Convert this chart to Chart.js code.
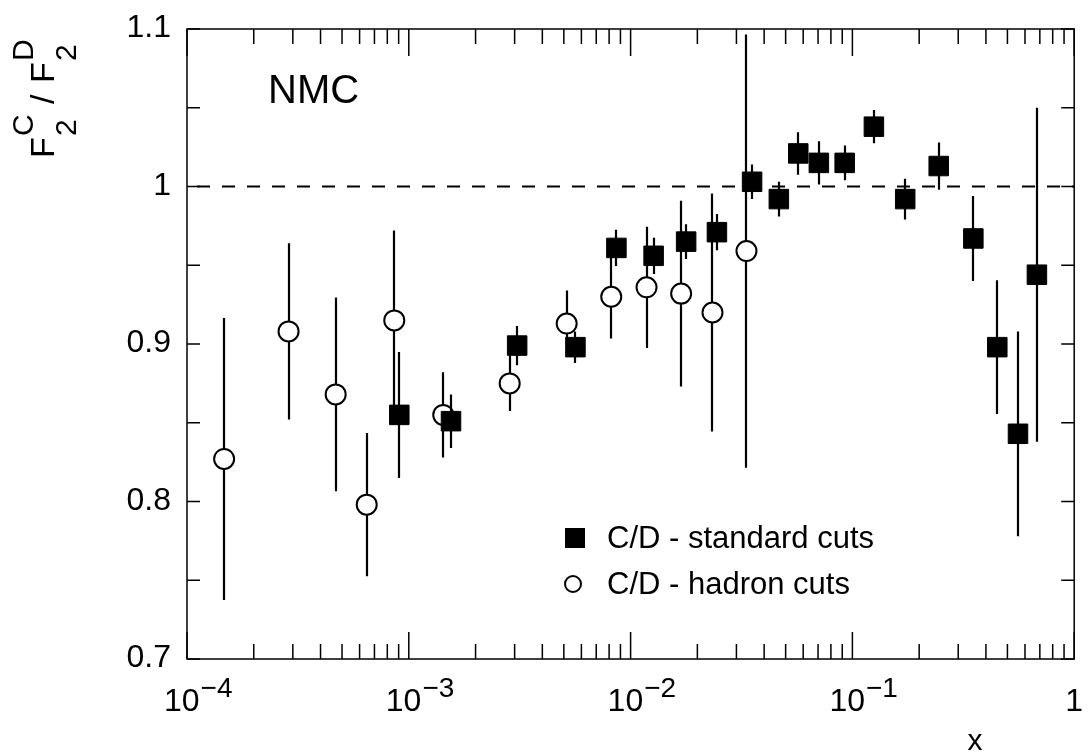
<!DOCTYPE html>
<html>
<head>
<meta charset="utf-8">
<script src="https://cdn.jsdelivr.net/npm/chart.js@4.4.1/dist/chart.umd.min.js"></script>
<style>
body{margin:0;background:#fff;}
</style>
</head>
<body>
<canvas id="c" width="1089" height="755"></canvas>
<script>
// C/D - standard cuts
const stdX = [9.06e-4, 1.55e-3, 3.08e-3, 5.64e-3, 8.63e-3, 1.27e-2, 1.78e-2, 2.45e-2, 3.53e-2, 4.66e-2,
              5.70e-2, 7.06e-2, 9.23e-2, 0.125, 0.173, 0.245, 0.351, 0.450, 0.558, 0.679];
const stdY = [0.855, 0.851, 0.899, 0.898, 0.961, 0.956, 0.965, 0.971, 1.003, 0.992,
              1.021, 1.015, 1.015, 1.038, 0.992, 1.013, 0.967, 0.898, 0.843, 0.944];
const stdErr = [0.040, 0.017, 0.0125, 0.010, 0.0115, 0.0115, 0.011, 0.0115, 0.011, 0.011,
                0.0135, 0.0137, 0.011, 0.0105, 0.013, 0.015, 0.027, 0.0425, 0.065, 0.106];

// C/D - hadron cuts
const hadX = [1.47e-4, 2.87e-4, 4.68e-4, 6.46e-4, 8.6e-4, 1.43e-3, 2.85e-3, 5.15e-3, 8.18e-3, 1.18e-2,
              1.69e-2, 2.34e-2, 3.33e-2];
const hadY = [0.827, 0.908, 0.868, 0.798, 0.915, 0.855, 0.875, 0.913, 0.930, 0.936,
              0.932, 0.920, 0.959];
const hadErr = [0.0895, 0.056, 0.0615, 0.0455, 0.057, 0.027, 0.0175, 0.021, 0.0265, 0.0385,
                0.059, 0.0755, 0.1375];

const xMajor = [1e-4, 1e-3, 1e-2, 1e-1, 1];
const xExp = ["-4", "-3", "-2", "-1", ""];
const yLabelVals = [0.7, 0.8, 0.9, 1.0, 1.1];
const yLabels = ["0.7", "0.8", "0.9", "1", "1.1"];

const FONT = "'Liberation Sans', Arial, sans-serif";
const errs = [
    {xs: stdX, ys: stdY, e: stdErr},
    {xs: hadX, ys: hadY, e: hadErr}
];

function pts(xs, ys){
    return xs.map((x,i)=>({x:x, y:ys[i]}));
}

const decor = {
    id:"decor",

    beforeDatasetsDraw(chart){
        const ctx = chart.ctx, a = chart.chartArea;
        const y1 = chart.scales.y.getPixelForValue(1);
        ctx.save();
        ctx.strokeStyle = "#000";
        ctx.lineWidth = 1.8;
        ctx.setLineDash([13,12]);
        ctx.beginPath();
        ctx.moveTo(a.left + 10, y1);
        ctx.lineTo(a.right, y1);
        ctx.stroke();
        ctx.restore();
    },

    beforeDatasetDraw(chart, args){
        const d = errs[args.index];
        const ctx = chart.ctx, a = chart.chartArea;
        const xs = chart.scales.x, ys = chart.scales.y;
        ctx.save();
        ctx.beginPath();
        ctx.rect(a.left, a.top, a.right - a.left, a.bottom - a.top);
        ctx.clip();
        ctx.strokeStyle = "#000";
        ctx.lineWidth = 2.2;
        d.xs.forEach((x,i)=>{
            const px = Math.round(xs.getPixelForValue(x));
            ctx.beginPath();
            ctx.moveTo(px, ys.getPixelForValue(d.ys[i] + d.e[i]));
            ctx.lineTo(px, ys.getPixelForValue(d.ys[i] - d.e[i]));
            ctx.stroke();
        });
        ctx.restore();
    },

    afterDraw(chart){
        const ctx = chart.ctx, a = chart.chartArea;
        const xs = chart.scales.x, ys = chart.scales.y;
        ctx.save();
        ctx.strokeStyle = "#000";
        ctx.fillStyle = "#000";
        ctx.lineWidth = 1.5;
        ctx.strokeRect(a.left, a.top, a.right - a.left, a.bottom - a.top);

        // x ticks, inside on bottom and top
        ctx.beginPath();
        for(let d = -4; d <= 0; d++){
            for(let m = 1; m <= 9; m++){
                const v = m * Math.pow(10, d);
                if(v > 1.0001) break;
                const px = xs.getPixelForValue(v);
                const len = m == 1 ? 27 : 15;
                ctx.moveTo(px, a.bottom); ctx.lineTo(px, a.bottom - len);
                ctx.moveTo(px, a.top); ctx.lineTo(px, a.top + len);
            }
        }
        // y ticks every 0.05
        for(let k = 0; k <= 8; k++){
            const py = ys.getPixelForValue(0.7 + k * 0.05);
            ctx.moveTo(a.left, py); ctx.lineTo(a.left + 13, py);
            ctx.moveTo(a.right, py); ctx.lineTo(a.right - 13, py);
        }
        ctx.stroke();

        // y labels
        ctx.font = "32px " + FONT;
        ctx.textAlign = "right";
        ctx.textBaseline = "alphabetic";
        yLabelVals.forEach((v,i)=>{
            ctx.fillText(yLabels[i], a.left - 16, ys.getPixelForValue(v) + 8);
        });

        // x labels
        xMajor.forEach((v,i)=>{
            const px = xs.getPixelForValue(v);
            if(xExp[i] === ""){
                ctx.font = "32px " + FONT;
                ctx.textAlign = "center";
                ctx.fillText("1", px, 711);
            } else {
                ctx.font = "32px " + FONT;
                ctx.textAlign = "left";
                ctx.fillText("10", px - 23, 711);
                const w = ctx.measureText("10").width;
                ctx.font = "28px " + FONT;
                ctx.fillText(xExp[i].replace("-", "\u2212"), px - 23 + w + 1, 697);
            }
        });

        // x title
        ctx.font = "30px " + FONT;
        ctx.textAlign = "center";
        ctx.fillText("x", 975, 750);

        // NMC
        ctx.font = "40px " + FONT;
        ctx.textAlign = "left";
        ctx.fillText("NMC", 268, 103);

        // legend
        ctx.fillRect(565, 528, 20, 20);
        ctx.lineWidth = 2;
        ctx.beginPath();
        ctx.arc(573, 584, 8, 0, Math.PI * 2);
        ctx.stroke();
        ctx.font = "31px " + FONT;
        ctx.textBaseline = "middle";
        ctx.fillText("C/D - standard cuts", 607, 539);
        ctx.fillText("C/D - hadron cuts", 607, 585);

        // y title, rotated
        ctx.translate(54, 158);
        ctx.rotate(-Math.PI / 2);
        ctx.textBaseline = "alphabetic";
        ctx.textAlign = "left";
        const big = "34px " + FONT, small = "30px " + FONT;
        ctx.font = big; ctx.fillText("F", 0, 0);
        ctx.font = small; ctx.fillText("2", 22, 22); ctx.fillText("C", 22, -21);
        ctx.font = big; ctx.fillText("/", 54, 0);
        ctx.fillText("F", 75, 0);
        ctx.font = small; ctx.fillText("2", 97, 22); ctx.fillText("D", 97, -21);
        ctx.restore();
    }
};

new Chart(document.getElementById("c"),{

    type:"scatter",

    data:{
        datasets:[
            {
                label:"C/D - standard cuts",
                data:pts(stdX, stdY),
                pointStyle:"rect",
                pointRadius:13.8,
                pointHoverRadius:13.8,
                backgroundColor:"#000",
                borderColor:"#000",
                borderWidth:1
            },
            {
                label:"C/D - hadron cuts",
                data:pts(hadX, hadY),
                pointStyle:"circle",
                pointRadius:10,
                pointHoverRadius:10,
                backgroundColor:"#fff",
                borderColor:"#000",
                borderWidth:2
            }
        ]
    },

    options:{
        responsive:false,
        animation:false,
        events:[],
        layout:{
            padding:{left:187, right:12, top:29, bottom:96}
        },
        scales:{
            x:{type:"logarithmic", min:1e-4, max:1, display:false},
            y:{type:"linear", min:0.7, max:1.1, display:false}
        },
        plugins:{
            legend:{display:false},
            tooltip:{enabled:false}
        }
    },

    plugins:[decor]

});
</script>
</body>
</html>
